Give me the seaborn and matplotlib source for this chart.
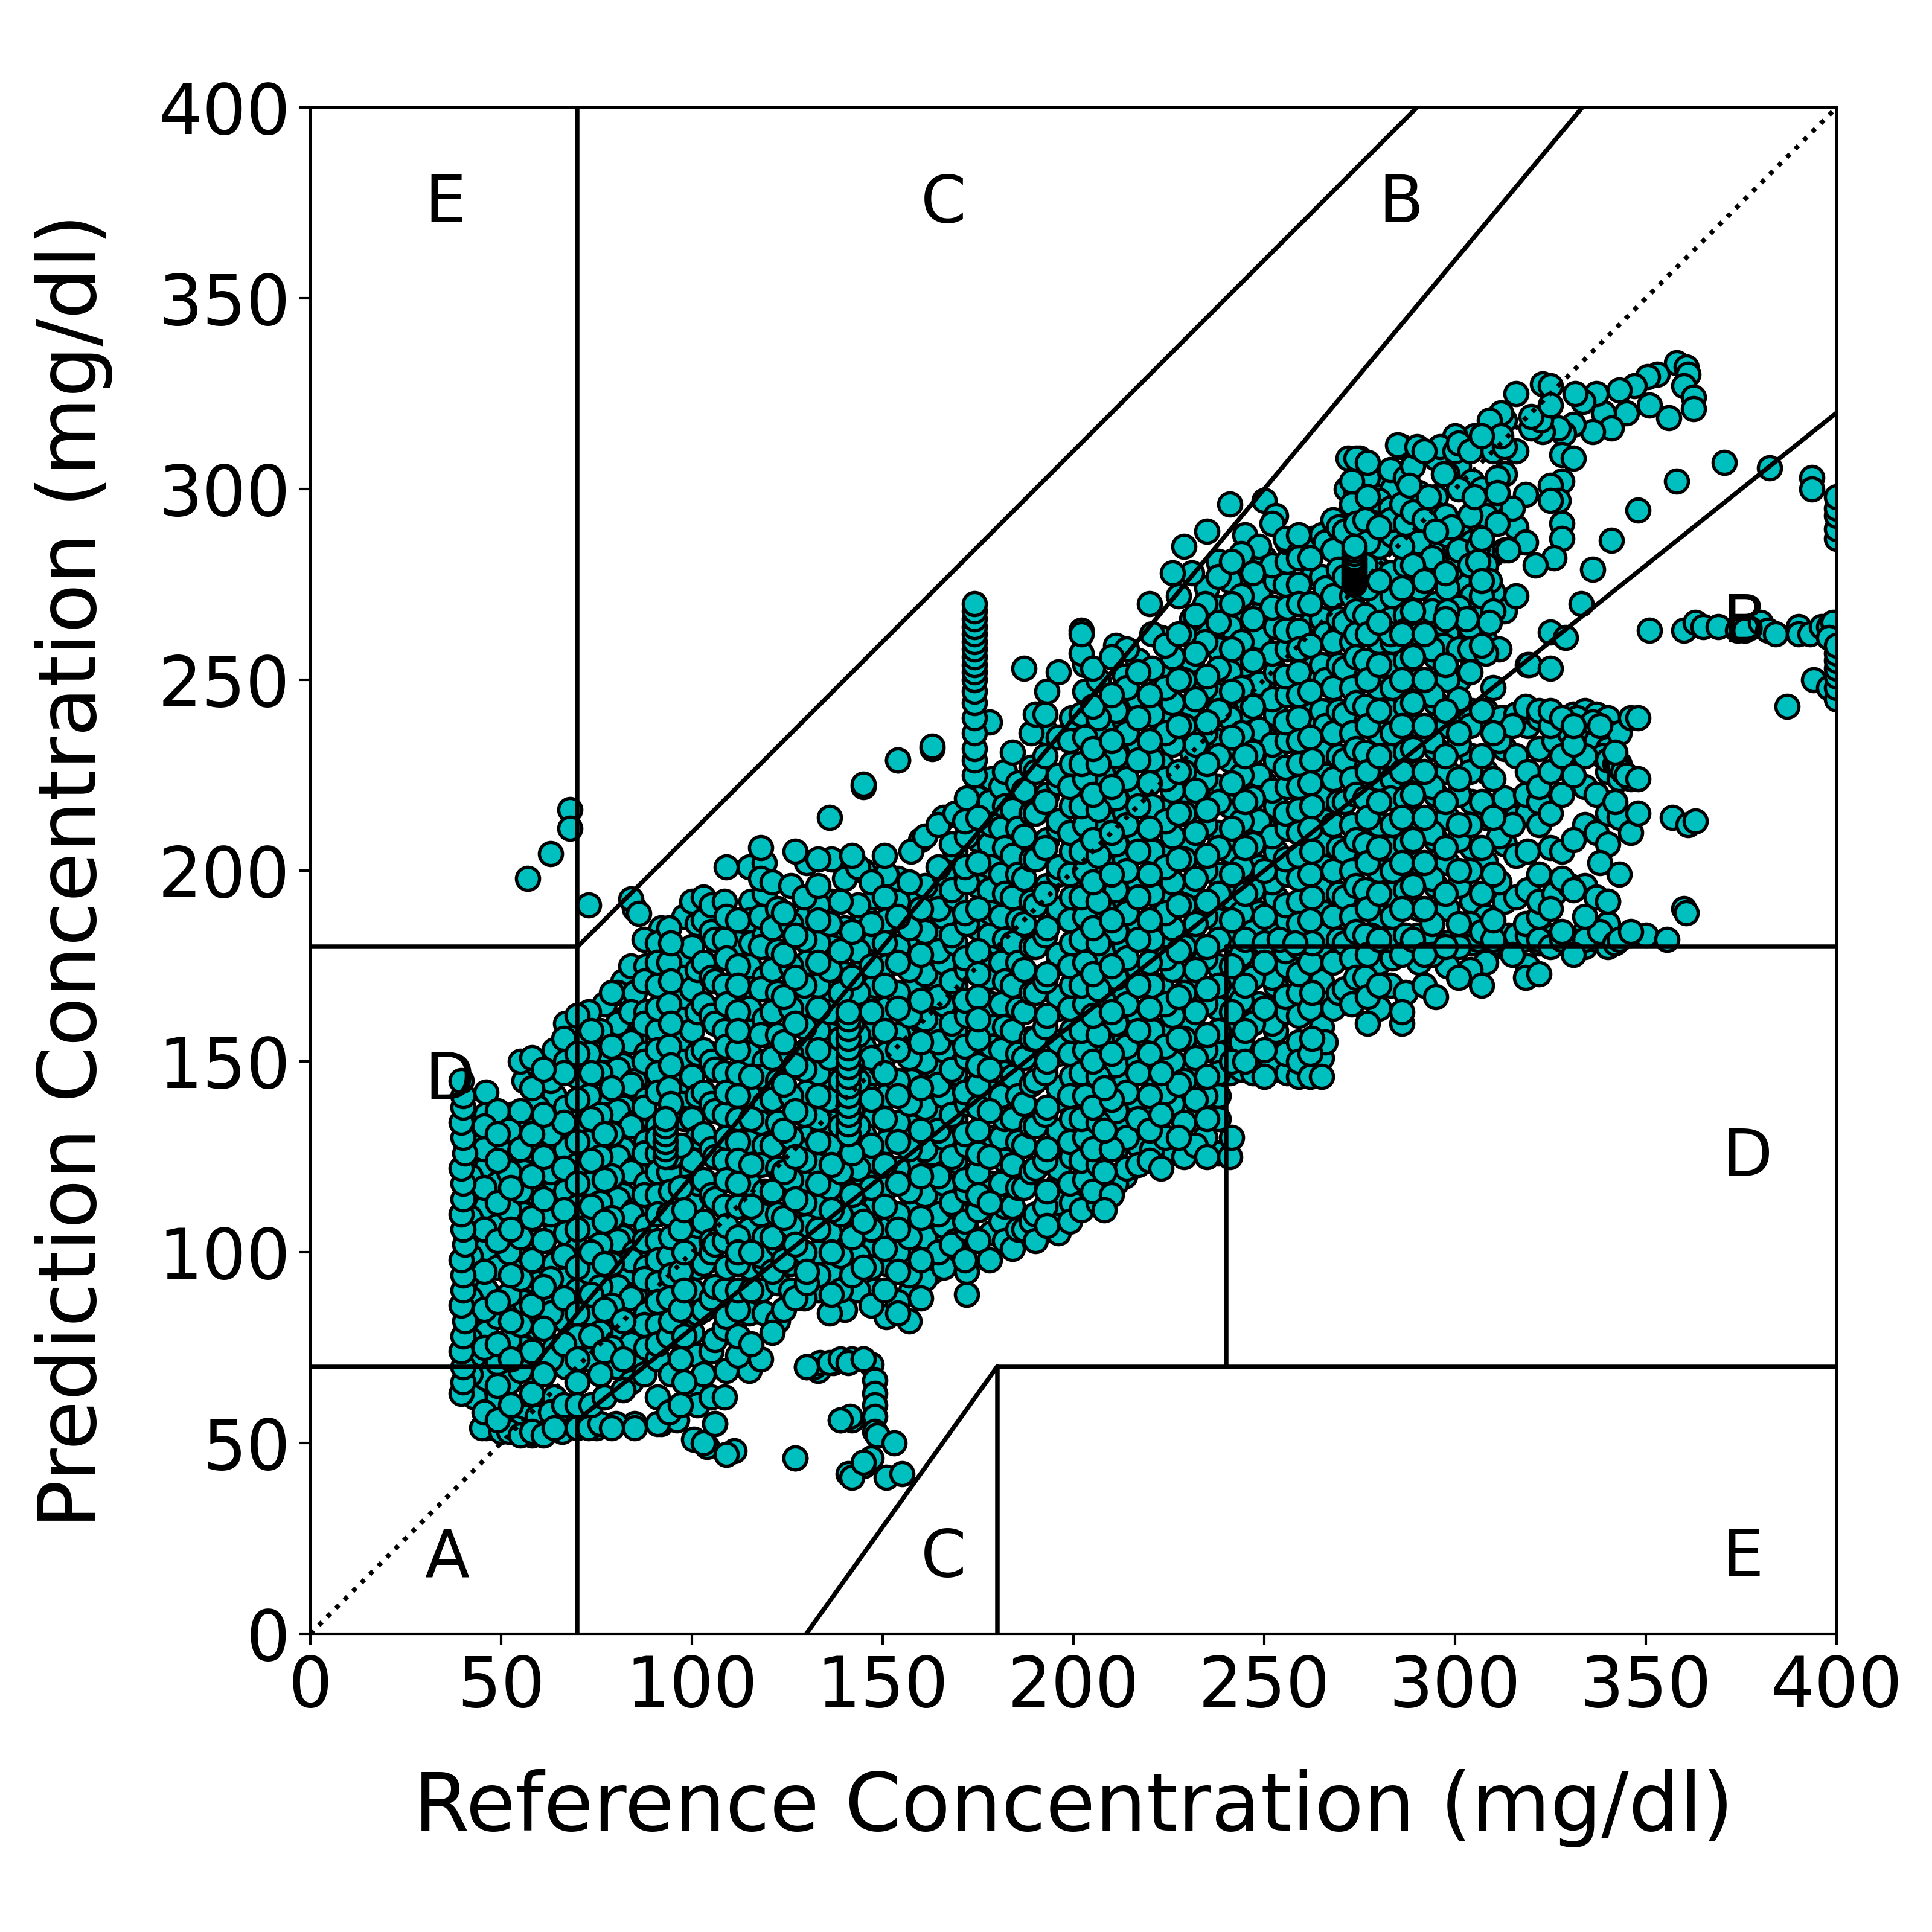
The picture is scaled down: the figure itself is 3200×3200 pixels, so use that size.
import matplotlib
matplotlib.use("Agg")
import matplotlib.pyplot as plt
import numpy as np
import pandas as pd
import seaborn as sns

# Reference columns of the main cloud and the predictions read in each column
core_ref = [43,46,49,52,55,58,61,64,67,70,73,76,79,82,85,88,91,94,97,100,103,106,109,112,115,118,121,124,127,130,133,136,139,142,145,148,151,154,157,160,163,166,169,172,175,178,181,184,187,190,193,196,199,202,205,208,211,214,217,220,223,226,229,232,235,238,241,244,247,250,253,256,259,262,265,268,271,274,277,280,283,286,289,292,295,298,301,304,307,310,313,316,319,322,325,328,331,334,337,340,343,346]
core_pred = [
 [62,73,84,93,104,116,125,133],[54,67,79,90,101,112,122,136,142],[62,71,83,96,107,118,128,137],[53,66,77,89,100,111,121,132],
 [52,69,81,93,104,116,127,137,150],[53,63,74,86,98,109,120,131,143,151],[52,68,80,91,103,114,125,136,148],[54,62,75,87,97,108,119,130,141,153],
 [54,70,82,93,105,116,127,138,150,160],[55,66,78,90,101,112,123,134,146,157],[54,72,84,95,107,118,129,141,152,163],[55,68,79,91,102,113,125,136,147,158],
 [54,75,86,97,109,120,131,143,154,168],[64,72,82,93,104,115,127,138,149,161,171],[55,70,79,89,100,111,122,134,145,156,168,190],[75,84,96,107,118,129,140,152,163,175],
 [55,72,81,92,103,115,126,133,147,158,170,181],[58,78,88,99,110,121,129,136,143,154,165,176,185],[60,72,85,95,106,117,128,140,151,162,173],[64,79,90,102,113,124,135,146,158,169,180,192],
 [50,68,85,97,108,119,131,142,153,165,176,187,193],[55,77,91,102,114,125,137,148,160,171,182],[47,69,83,96,107,119,130,142,154,165,177,188,201],[78,90,100,112,124,135,147,158,170,181],
 [69,84,96,106,118,129,141,152,164,175,187,201],[72,90,99,110,123,134,146,157,169,180,188,206,198],[79,95,104,116,128,140,151,163,174,185,197],[85,98,109,121,132,144,155,167,178,189],
 [46,88,102,114,125,137,149,160,172,183,205],[70,92,95,107,119,130,142,153,165,176,188,202],[69,90,100,112,123,135,147,158,170,181,191,203],[71,84,95,105,117,128,140,151,163,174,186,214],
 [56,72,90,99,110,121,133,145,156,168,179,192],[41,56,72,94,104,115,126,137,149,160,172,184,204],[45,72,96,108,120,131,143,154,166,177,189,200,222],[90,102,112,124,136,147,159,170,182,193],
 [83,97,106,117,129,141,152,164,175,187,199],[87,100,110,122,134,145,157,168,180,192,229],[82,94,104,116,127,139,151,162,174,185,197],[88,98,109,120,132,143,155,166,178,190,208],
 [95,104,114,126,137,149,160,172,184,195,232],[96,107,118,130,141,153,165,176,188,199,214],[103,112,124,135,147,158,170,181,193,205,215],[89,95,106,116,128,139,151,162,174,186,197,209,219],
 [111,121,132,144,156,167,179,190,202,214],[98,113,125,137,148,160,172,183,195,207,218],[108,118,130,141,153,165,176,188,199,211,222],[101,112,123,135,146,158,170,181,193,204,216,231],
 [106,117,128,139,151,163,174,186,198,209,221,253],[103,110,122,133,145,156,168,180,191,203,215,226,241],[107,116,127,138,150,162,173,185,196,208,220,236,247],[105,113,122,132,143,155,167,178,190,201,213,225,252],
 [108,118,129,141,152,164,175,187,199,210,222,234],[111,124,135,147,158,170,182,193,205,217,228,241,257,262],[116,127,138,150,162,173,185,197,208,220,232,243,253],[111,121,132,143,155,167,178,190,202,213,225,237],
 [118,127,137,149,160,172,184,195,207,219,230,242,259],[122,130,142,154,165,177,189,200,212,224,236,248,258],[123,135,147,158,170,182,193,205,217,229,240,252],[124,132,141,152,164,176,187,199,211,223,234,246,270],
 [122,136,147,158,170,181,193,205,216,228,240,251,261],[127,139,150,162,174,185,197,209,221,233,244,256,278],[125,134,145,156,168,180,191,203,215,226,238,250,262,285],[128,140,151,163,174,186,198,210,221,233,245,257,267],
 [125,135,146,157,169,180,192,204,216,228,239,251,263,274,289],[126,141,152,164,175,187,199,210,222,234,246,258,269,281],[125,147,158,170,182,193,205,217,229,240,252,264,276,296],[148,155,166,178,189,201,213,225,236,248,260,272,283],
 [147,160,172,184,195,207,219,231,243,255,266,278],[146,153,164,176,188,200,211,223,235,247,258,270,282,297],[148,158,170,182,193,205,217,229,241,252,264,276,293],[147,163,175,187,199,211,222,234,246,258,269,281,286],
 [146,155,168,180,192,204,216,228,240,252,263,275,283],[146,152,164,176,187,199,211,223,235,247,259,270,282],[146,151,159,171,183,195,207,219,231,242,254,266,277,288],[164,176,188,200,212,224,236,248,260,272,284,292],
 [169,181,193,205,218,229,241,253,265,277,289],[172,184,196,208,220,232,244,256,262,268,291,308],[160,167,178,190,202,214,226,238,250,262,274,286,298,307],[164,176,188,200,212,224,236,248,260,270,285,298],
 [170,182,194,206,219,230,242,254,266,278,292,305],[160,163,178,190,202,214,226,238,250,262,274,285,296,311],[182,196,208,220,232,244,256,268,280,294,306],[170,178,190,202,214,226,238,250,262,276,292,310],
 [167,182,196,208,220,232,244,256,270,281,298,308],[175,190,202,214,226,238,250,262,274,288,304],[180,196,208,220,233,245,258,269,284,300,312],[174,186,200,212,226,238,252,264,280,293,310],
 [170,184,194,206,218,230,242,259,276,287,300,314],[182,187,199,214,224,236,248,273,283,297,316],[180,192,207,219,232,240,268,284,304,318],[183,193,204,214,230,241,272,290,310],
 [175,183,195,205,215,226,238,242,254],[173,182,188,199,212,222,232,242],[180,190,206,215,226,238,242,253],[182,184,198,205,220,230,240],
 [178,195,208,225,233,238,241],[180,184,196,212,222,236,242],[182,193,210,220,234,241],[180,186,192,207,215,226,232,240],
 [182,199,214,224,228,236],[184,210,224,240],
]

# Second reading of the same cloud, between the columns above
fill_ref = [42,45.5,49,52.5,56,59.5,63,66.5,70,73.5,77,80.5,84,87.5,91,94.5,98,101.5,105,108.5,112,115.5,119,122.5,126,129.5,133,136.5,140,143.5,147,150.5,154,157.5,161,164.5,168,171.5,175,178.5,182,185.5,189,192.5,196,199.5,203,206.5,210,213.5,217,220.5,224,227.5,231,234.5,238,241.5,245,248.5,252,255.5,259,262.5,266,269.5,273,276.5,280,283.5,287,290.5,294,297.5,301,304.5,308,311.5,315,318.5,322,326,330,334,338,342]
fill_pred = [
 [68,77,88,99,109,120,129],[58,75,85,95,106,117,127,133],[56,65,76,87,103,113,124,131],[60,72,82,94,106,117,127,136],
 [57,75,87,98,110,121,133,145],[57,68,80,92,103,115,126,138,149],[58,72,84,93,110,121,131,145],[60,76,88,99,111,122,134,147,156],
 [60,72,84,96,106,118,129,140,152,162],[60,78,89,100,112,124,135,147,158],[62,74,85,97,108,119,131,142,153,165],[70,80,91,103,114,125,137,148,160,168],
 [66,76,88,98,110,121,133,144,155,163,175],[68,81,93,103,115,126,138,150,160,171,182],[62,76,87,98,110,121,130,142,153,164,176],[68,82,94,104,116,125,139,149,160,171,181],
 [66,78,90,100,111,123,135,145,156,167,178,188],[60,73,84,96,107,118,130,141,152,163,174,186],[62,74,88,100,103,115,127,139,150,162,172,184,191],[62,80,90,103,112,124,136,147,158,170,182,192],
 [73,85,97,104,118,129,141,153,163,175,187],[76,90,100,112,123,135,146,158,169,181,192],[84,97,104,116,128,139,150,161,172,183,194,202],[82,92,102,110,122,134,145,157,168,179,190],
 [90,97,107,119,130,141,152,164,175,186,196],[88,100,113,124,136,148,159,170,182,193],[94,106,118,129,141,153,164,176,187,196],[89,100,111,123,134,146,157,168,180,192,203],
 [85,94,105,116,127,139,150,162,173,185,198],[90,99,110,122,133,145,157,168,179,191,201],[86,96,106,117,128,140,151,163,175,186,197],[90,101,112,123,135,147,158,170,181,193,204],
 [84,95,106,118,129,141,153,164,176,188,198],[90,99,111,122,133,145,157,169,180,192,205],[93,104,115,127,138,150,161,173,184,196,209],[100,110,120,132,144,155,167,179,190,201,212],
 [102,113,125,136,148,160,171,183,195,207],[98,108,119,131,142,154,166,177,189,201,213],[103,115,126,138,149,161,173,185,196,208,219],[105,118,130,142,154,165,177,189,201,212,224],
 [103,112,124,135,147,159,171,182,194,206,217,226],[106,117,129,141,152,164,176,187,199,211,223],[108,121,133,144,156,168,180,192,203,215,227,236],[112,124,136,147,159,171,183,194,206,218,230,241],
 [109,118,129,140,152,164,176,188,199,211,223,235],[113,125,135,146,158,170,181,193,205,217,228,240],[119,130,141,153,165,176,188,200,212,224,235,247],[113,123,134,146,157,169,181,192,204,216,228,240,250],
 [115,127,140,152,163,175,187,199,210,222,234,246,256],[120,133,145,156,168,180,192,203,215,227,239,251],[128,139,150,162,174,186,197,209,221,233,245,255],[127,136,147,158,170,182,194,205,217,229,241,253,262],
 [130,142,154,165,177,189,201,213,224,236,248,259],[130,144,156,167,179,191,203,215,226,238,250,262,272],[128,137,148,160,172,184,196,207,219,231,243,255,266,278],[130,141,153,165,177,188,200,212,224,236,248,260,270],
 [135,147,158,170,182,194,206,218,230,242,253,265,277],[130,150,163,175,187,199,211,223,235,247,258,270,281],[150,158,170,182,194,206,218,230,242,254,266,278,288],[152,165,177,189,201,213,225,237,249,261,273,285],
 [150,160,172,184,197,209,221,233,245,257,269,280,291],[152,167,179,191,203,215,227,239,251,263,275,287],[150,162,173,186,198,210,222,234,246,258,270,282,288],[156,168,181,193,205,217,229,241,253,265,277,287],
 [155,165,177,189,201,213,225,238,250,262,274,286],[168,182,194,206,218,230,242,254,266,279,290],[165,177,188,200,212,224,236,248,260,272,296,302],[172,183,195,207,219,231,243,255,267,280,292],
 [170,182,194,206,218,230,242,254,265,276,290,304],[177,188,200,212,224,236,248,260,272,288,300],[168,183,195,207,219,231,243,255,267,280,291,303],[176,190,202,214,226,238,250,262,274,286,299],
 [178,186,198,210,222,234,246,258,268,282,294],[180,194,206,218,230,242,254,266,278,293],[172,186,200,212,224,236,250,262,276,290,306],[181,192,206,218,230,242,256,272,286,302],
 [176,188,202,214,226,240,260,269,280,293],[197,209,234,258],[178,212,238],[172,186,220,243],
 [192,218,240],[194,234],[196,236],[188,230],[202,238],[218,231],
]

# Stacks along the left edge and other dense vertical runs
left_edge_ref = [39.5,40,40,39.5,40,40.5,39.5,40,40,39.5,40.5,40,39.5,40,40,39.5,40.5,40,39.5,40,40,39.5]
left_edge_pred = [63,66,70,74,78,82,86,90,94,98,102,106,110,114,118,122,126,130,134,138,141,145]

run_141_ref = [141,141,141,141,141,141,141,141,141,141,141,141,141,141]
run_141_pred = [131,133.5,136,138.5,141,143.5,146,148.5,151,153.5,156,158.5,161,163]
run_93_ref = [93,93,93,93,93,93]
run_93_pred = [125,127,129,131,133,135]
run_174_ref = [178,174,174,174,174,174,174,174,174,174,174,174,174,174,174,174,174,174,174]
run_174_pred = [239,225,229,232,236,240,244,247,250,252,254,256,258,260,262,264,266,268,270]
run_273_ref = [273.5,273.5,273.5,273.5,273.5,273.5,273.5,273.5,273.5,273.5,273.5,273.5,273.5,273.5]
run_273_pred = [275,275.7,276.4,277.1,277.8,278.5,279.2,279.9,280.6,281.3,282,283,284,285]
run_right_ref = [400,400,400,400,400,400,400,400,400,400,400,400]
run_right_pred = [245,248,251,253,255,257,259,287,289.5,293,295,298]

# Arms, tails and stray points
arm_top_ref = [358,360.6,361,360,362.5,362.5,356,353,350.5,347,343,351,345,339,341,336,337,333.5,331.5,331,328.5,327,323,320,322.5,320,323,325,316,325,312,309,305,300,296,300,310,313,312,328,331,328,325,318.5,315,327,325,328,328,326,321,318.5,314,311,306,306,309,307,310,309,303,298,304,308,285,290,293,297,288,311,311,305,299,295,294,293,300,299,286,291,283,272,275,275,277,271.5,274,277,280,283,279,274,272,280,270,276,283,287,293,296,297]
arm_top_pred = [333,332,330,327,324,321,318.7,330,329.5,327,326,322,320,320,316,315,325,323,325,317,314.5,316,315,316,318,319,327.5,327,325,322,320,318,314,314,311,310,310,311,314,309,308,302,301,298.5,295,297,297,291,287,282,280,286,284,291,285,281,276,272,268,265,266,268,258,257,311.6,311,298,304,301,303,299,298,290,289,285,281,285,279,276.5,274,271,308,308,305,303,300,299,298,297,295,291,291,293,279,263,262,262,263,264,265,259]
diag_ref = [336,341,348,358,370.5,382.5,393.5,393.5,333,325,329,319.5]
diag_pred = [279,286.5,294.5,302,307,305.5,303,300,270,262.5,261,254]
row_264_ref = [351,360,363,365,369,374,376,380,382,384,390,390,393,396,398,399,398,387,394,398]
row_264_pred = [263,263,265,264,264,263,263,265,263,262,264,262,262,264,264,265,261,243,250,248]
row_182_ref = [250,254,258,262,266,270,274,278,282,286,290,294,298,302,306,310,314,318,322,326,330,334,338,342,346,350,355.5]
row_182_pred = [181,182,181,183,182,184,182,183,182,181,183,182,181,183,182,181,183,182,181,183,182,182,184,181,183,183,182]
arm_240_ref = [300,304,308,312,316,320,324,328,332,336,338.6,340,342,342.5,343,344,345,348,348,348,357,361,363,360,360.6,340]
arm_240_pred = [242,241,242,240,241,242,240,239,240,239,230,229,228,227.5,227,226,225,224,240,215,214,212,213,190,189,192]
low_tail_ref = [141,145,147,148,148,148,148,148,148.6,153,141.5,139,141,145,147,151,155,127,111,104,100.5,106,130,132,133.5,137,45,50,54,58,62,66,70,75,80,85,92,96]
low_tail_pred = [71,72,70.5,66.5,63,60,57,53,52,50,57,56,42,44,46,41,42,46,48,49,51,55,70,70,71,71,54,53,54,52,53,53,54,54,55,54,55,56]
upper_stray_ref = [57,63,68,68,73,84,86,92,145,154,163,202,203]
upper_stray_pred = [198,204.5,216,211,191,192.6,188.7,185,222.6,229,232.6,263,254]

tick_values = [0,50,100,150,200,250,300,350,400]
zone_labels = ["A","B","B","C","C","D","D","E","E"]
zone_label_x = [30,370,280,160,160,30,370,30,370]
zone_label_y = [15,260,370,370,15,140,120,370,15]

core_x = [x for x, col in zip(core_ref, core_pred) for _ in col]
core_y = [y for col in core_pred for y in col]
fill_x = [x for x, col in zip(fill_ref, fill_pred) for _ in col]
fill_y = [y for col in fill_pred for y in col]
base_x = core_x + fill_x + arm_top_ref + diag_ref + row_264_ref + row_182_ref + arm_240_ref + low_tail_ref + upper_stray_ref + left_edge_ref
base_y = core_y + fill_y + arm_top_pred + diag_pred + row_264_pred + row_182_pred + arm_240_pred + low_tail_pred + upper_stray_pred + left_edge_pred
# Draw order only: interleave so that overlaps do not follow the columns
n = len(base_x)
order = sorted(range(n), key=lambda i: (i * 37) % n)
stack_x = run_141_ref + run_93_ref + run_174_ref + run_273_ref + run_right_ref
stack_y = run_141_pred + run_93_pred + run_174_pred + run_273_pred + run_right_pred
df = pd.DataFrame({
    "ref": [base_x[i] for i in order] + stack_x,
    "pred": [base_y[i] for i in order] + stack_y,
})

sns.set_style("white")
plt.rcParams["font.family"] = ["DejaVu Sans"]

fig = plt.figure(figsize=(3200 / 300, 3200 / 300), dpi=300)
ax = fig.add_axes([514 / 3200, 1 - 2706 / 3200, 2528 / 3200, 2528 / 3200])

sns.scatterplot(data=df, x="ref", y="pred", color="c", edgecolor="black",
                s=84, linewidth=1.3, ax=ax, clip_on=True, legend=False)

ax.plot([0, 400], [0, 400], ":", c="black", lw=1.8)
zone_lines = [
    ([0, 175 / 3], [70, 70]), ([175 / 3, 400 / 1.2], [70, 400]), ([70, 70], [84, 400]),
    ([0, 70], [180, 180]), ([70, 290], [180, 400]), ([70, 70], [0, 56]),
    ([70, 400], [56, 320]), ([180, 180], [0, 70]), ([180, 400], [70, 70]),
    ([240, 240], [70, 180]), ([240, 400], [180, 180]), ([130, 180], [0, 70]),
]
for lx, ly in zone_lines:
    ax.plot(lx, ly, "-", c="black", lw=1.8)

for label, lx, ly in zip(zone_labels, zone_label_x, zone_label_y):
    ax.text(lx, ly, label, fontsize=26, color="black")

ax.set_xlim(0, 400)
ax.set_ylim(0, 400)
ax.set_xticks(tick_values)
ax.set_yticks(tick_values)
ax.tick_params(axis="both", which="major", labelsize=27.5, length=4.5, width=1.0,
               bottom=True, left=True, color="black", labelcolor="black")
for spine in ax.spines.values():
    spine.set_visible(True)
    spine.set_color("black")
    spine.set_linewidth(1.0)
ax.grid(False)
ax.set_xlabel("Reference Concentration (mg/dl)", fontsize=32, color="black", labelpad=19)
ax.set_ylabel("Prediction Concentration (mg/dl)", fontsize=32, color="black", labelpad=18)

fig.savefig("out.png", dpi=300, facecolor="white")
